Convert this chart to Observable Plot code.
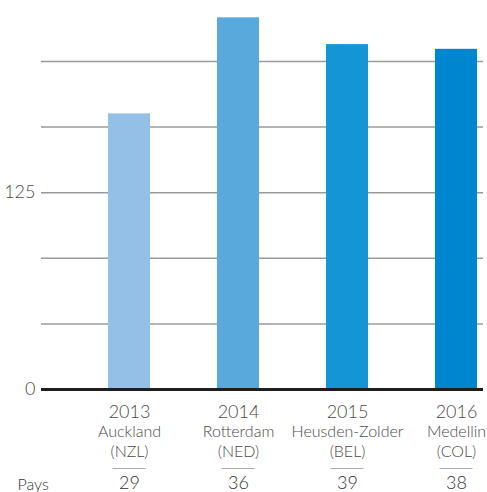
<!DOCTYPE html>
<html>
<head>
<meta charset="utf-8">
<script src="https://cdn.jsdelivr.net/npm/d3@7"></script>
<script src="https://cdn.jsdelivr.net/npm/@observablehq/plot@0.6"></script>
<style>
  html, body { margin: 0; padding: 0; background: #fff; overflow: hidden; }
  #chart svg { font-family: Lato, "Open Sans", sans-serif; }
</style>
</head>
<body>
<div id="chart"></div>
<script>
const years = ["2013", "2014", "2015", "2016"];
const cities = ["Auckland", "Rotterdam", "Heusden-Zolder", "Medellin"];
const codes = ["(NZL)", "(NED)", "(BEL)", "(COL)"];
const values = [175, 236, 219, 216];
const pays = [29, 36, 39, 38];
const colors = ["#94c0e8", "#5aa9dc", "#1496d6", "#0085cf"];
const gridTicks = [0, 125 / 3, 250 / 3, 125, 500 / 3, 625 / 3];
const labelTicks = [0, 125];
const rowLabel = "Pays";

const data = years.map((y, i) => ({year: y, city: cities[i], code: codes[i], value: values[i], pays: pays[i], color: colors[i]}));

const textColor = "#4a4a4a";

const chart = Plot.plot({
  width: 487,
  height: 492,
  marginTop: 0,
  marginLeft: 41,
  marginRight: 4,
  marginBottom: 103,
  style: {fontFamily: "Lato, 'Open Sans', sans-serif", background: "#fff", overflow: "visible"},
  x: {domain: years, paddingInner: 0.616, paddingOuter: 0.33, align: 0.917, axis: null},
  y: {domain: [0, 247], axis: null},
  marks: [
    Plot.ruleY(gridTicks, {stroke: "#9a9a9a", strokeWidth: 1.5}),
    Plot.barY(data, {x: "year", y: "value", fill: "color"}),
    Plot.ruleY([0], {stroke: "#1e1e1e", strokeWidth: 3}),
    Plot.axisY(labelTicks, {label: null, tickSize: 0, tickPadding: 6, fontSize: 18, fill: textColor, fontWeight: 300}),
    Plot.text(data, {x: "year", text: "year", frameAnchor: "bottom", dy: 28, fontSize: 18, fontWeight: 300, fill: textColor}),
    Plot.text(data, {x: "year", text: "city", frameAnchor: "bottom", dy: 47, fontSize: 16, fontWeight: 300, fill: textColor}),
    Plot.text(data, {x: "year", text: "code", frameAnchor: "bottom", dy: 67, fontSize: 16, fontWeight: 300, fill: textColor}),
    Plot.tickY(data, {x: "year", y: () => 0, dy: 79, stroke: "#aaa", strokeWidth: 1, insetLeft: 4.5, insetRight: 4.5}),
    Plot.text(data, {x: "year", text: "pays", frameAnchor: "bottom", dy: 99, fontSize: 18, fontWeight: 300, fill: "#333"}),
    Plot.text([rowLabel], {frameAnchor: "bottom-left", textAnchor: "start", dx: -24, dy: 100, fontSize: 16, fontWeight: 300, fill: "#333"})
  ]
});

document.getElementById("chart").appendChild(chart);
</script>
</body>
</html>
